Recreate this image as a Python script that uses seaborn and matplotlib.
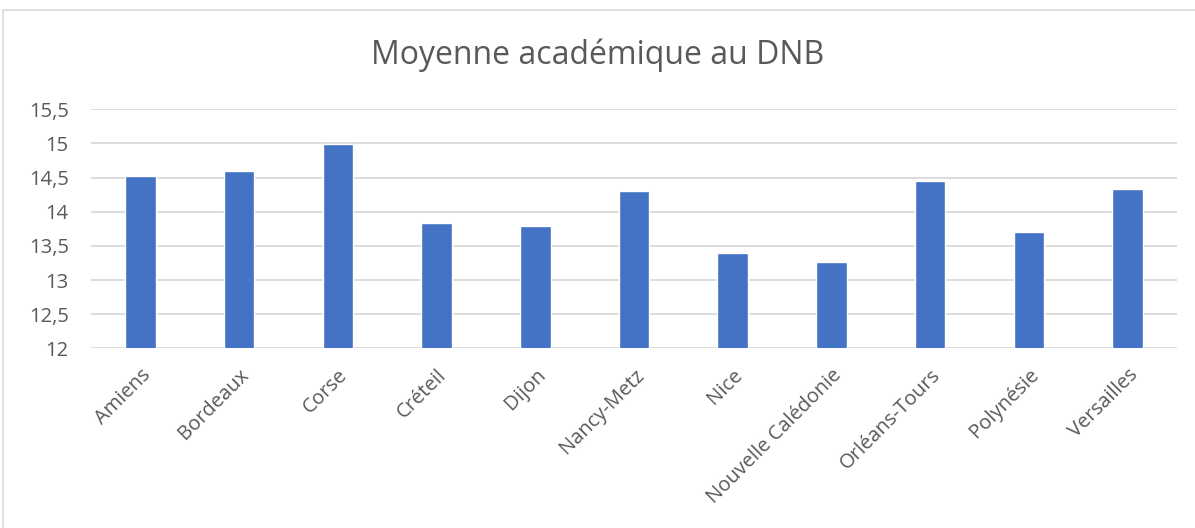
import matplotlib
matplotlib.use("Agg")
import matplotlib.pyplot as plt
import seaborn as sns
import pandas as pd
from matplotlib.patches import Rectangle
from matplotlib.ticker import FuncFormatter

academies = ["Amiens", "Bordeaux", "Corse", "Créteil", "Dijon", "Nancy-Metz",
             "Nice", "Nouvelle Calédonie", "Orléans-Tours", "Polynésie", "Versailles"]
moyennes = [14.52, 14.60, 14.99, 13.83, 13.79, 14.30, 13.39, 13.26, 14.45, 13.70, 14.34]
y_ticks = [12, 12.5, 13, 13.5, 14, 14.5, 15, 15.5]

sns.set_theme(style="white")
plt.rcParams["font.family"] = ["Open Sans", "DejaVu Sans"]

df = pd.DataFrame({"academie": academies, "moyenne": moyennes})

fig = plt.figure(figsize=(11.95, 5.28), dpi=100)
ax = fig.add_axes([91 / 1195, 1 - 348.3 / 528, (1177 - 91) / 1195, (348.3 - 109.3) / 528])

# chart frame, like the spreadsheet export
fig.patches.append(Rectangle((3 / 1195, -0.01), 1.0, 1 - 10 / 528 + 0.01,
                             transform=fig.transFigure, fill=False,
                             edgecolor="#D9D9D9", linewidth=1.2))

sns.barplot(data=df, x="academie", y="moyenne", color="#4472C4", width=0.31,
            saturation=1, ax=ax, zorder=3)

ax.set_ylim(12, 15.5)
ax.set_yticks(y_ticks)
ax.yaxis.set_major_formatter(FuncFormatter(lambda v, _: f"{v:g}".replace(".", ",")))
ax.grid(axis="y", color="#D9D9D9", linewidth=1.3, zorder=0)
ax.set_axisbelow(True)
for s in ax.spines.values():
    s.set_visible(False)
ax.tick_params(axis="both", length=0, labelsize=14.5, labelcolor="#595959")
ax.tick_params(axis="y", pad=16)
ax.tick_params(axis="x", pad=12)
ax.set_xlabel("")
ax.set_ylabel("")
plt.setp(ax.get_xticklabels(), rotation=45, ha="right", rotation_mode="anchor")
ax.set_xlim(-0.5, len(academies) - 0.5)

fig.text(0.5, 1 - 55 / 528, "Moyenne académique au DNB", ha="center", va="center",
         fontsize=23, color="#595959")

fig.savefig("out.png", dpi=100, facecolor="white")
